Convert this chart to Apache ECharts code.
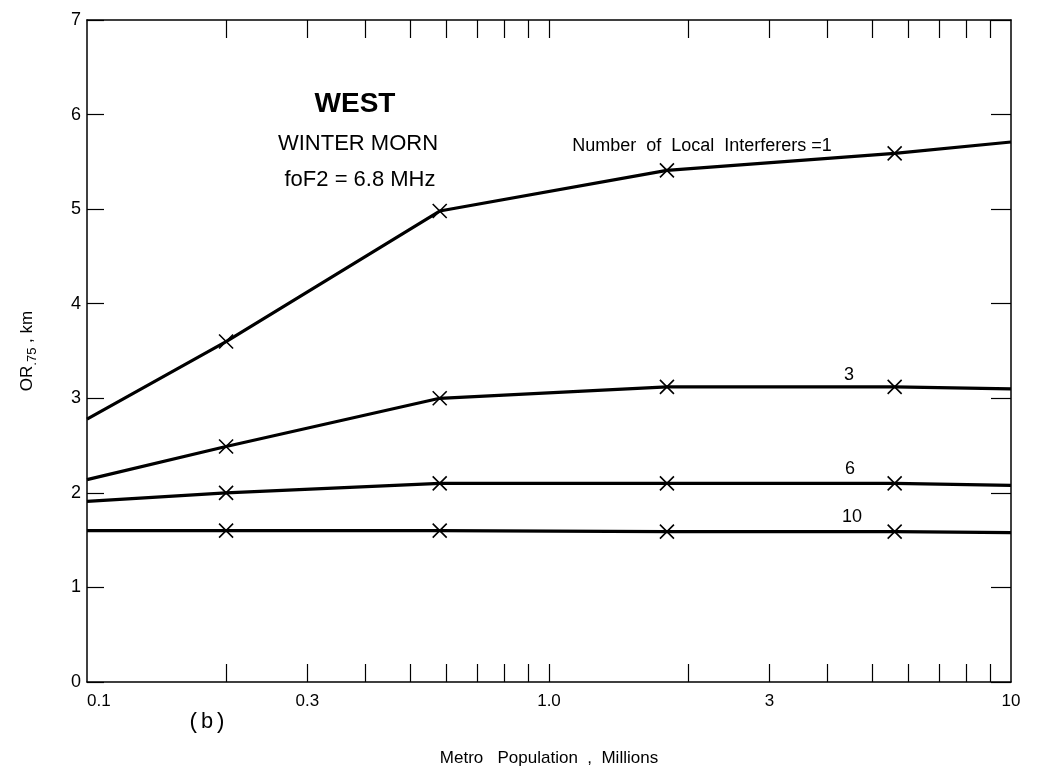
<!DOCTYPE html>
<html><head><meta charset="utf-8">
<script src="https://cdn.jsdelivr.net/npm/echarts@6/dist/echarts.min.js"></script>
<style>html,body{margin:0;padding:0;background:#fff}#c{width:1051px;height:774px}</style>
</head><body><div id="c"></div>
<script>
// ---- data ----
const xValues = [0.1, 0.2, 0.58, 1.8, 5.6, 10];
const interferers1 = [2.78, 3.60, 4.98, 5.41, 5.59, 5.71];
const interferers3 = [2.14, 2.49, 3.00, 3.12, 3.12, 3.10];
const interferers6 = [1.91, 2.00, 2.10, 2.10, 2.10, 2.08];
const interferers10 = [1.60, 1.60, 1.60, 1.59, 1.59, 1.58];
const seriesNames = ['Number of Local Interferers =1', '3', '6', '10'];
const xLabelValues = [0.1, 0.3, 1, 3, 10];
const xLabelTexts = ['0.1', '0.3', '1.0', '3', '10'];
const xTickValues = [0.2, 0.3, 0.4, 0.5, 0.6, 0.7, 0.8, 0.9, 1, 2, 3, 4, 5, 6, 7, 8, 9];
const yTickValues = [0, 1, 2, 3, 4, 5, 6, 7];

const FONT = "'Liberation Sans', Arial, sans-serif";
const chart = echarts.init(document.getElementById('c'), null, {renderer: 'canvas'});

function mkData(ys) {
  return xValues.map((x, i) => {
    const end = i === 0 || i === xValues.length - 1;
    return end ? {value: [x, ys[i]], symbol: 'none'} : {value: [x, ys[i]]};
  });
}
function mkSeries(name, ys) {
  return {
    name: name, type: 'line', xAxisIndex: 0, yAxisIndex: 0,
    data: mkData(ys),
    symbol: 'path://M0,0L10,10M10,0L0,10', symbolSize: 14,
    itemStyle: {color: 'none', borderColor: '#000', borderWidth: 1.6},
    lineStyle: {color: '#000', width: 3.2},
    emphasis: {disabled: true}, silent: true, animation: false
  };
}
const labelMap = {};
xLabelValues.forEach((v, i) => labelMap[v] = xLabelTexts[i]);

const xCommon = {
  type: 'log', logBase: 10, min: 0.1, max: 10,
  axisLine: {onZero: false, lineStyle: {color: '#000', width: 1.5}},
  splitLine: {show: false},
  axisTick: {inside: true, length: 18, customValues: xTickValues, lineStyle: {color: '#000', width: 1.2}}
};
const yCommon = {
  type: 'value', min: 0, max: 7, interval: 1,
  axisLine: {show: true, onZero: false, lineStyle: {color: '#000', width: 1.5}},
  splitLine: {show: false},
  axisTick: {show: true, inside: true, length: 17, customValues: yTickValues, lineStyle: {color: '#000', width: 1.2}}
};

chart.setOption({
  backgroundColor: '#fff',
  animation: false,
  grid: {left: 87, right: 40, top: 20, bottom: 92, containLabel: false, outerBoundsMode: 'none'},
  xAxis: [
    Object.assign({}, xCommon, {
      position: 'bottom',
      name: 'Metro   Population  ,  Millions', nameLocation: 'middle', nameGap: 68,
      nameTextStyle: {fontFamily: FONT, fontSize: 17, color: '#000'},
      axisLabel: {customValues: xLabelValues, formatter: v => labelMap[v] !== undefined ? labelMap[v] : String(v),
        fontFamily: FONT, fontSize: 17, color: '#000', margin: 11, alignMinLabel: 'left'}
    }),
    Object.assign({}, xCommon, {position: 'top', axisLabel: {show: false}})
  ],
  yAxis: [
    Object.assign({}, yCommon, {
      position: 'left',
      name: 'OR{sub|.75} , km', nameLocation: 'middle', nameGap: 60, nameRotate: 90,
      nameTextStyle: {fontFamily: FONT, fontSize: 17, color: '#000', lineHeight: 24, verticalAlign: 'middle',
        rich: {sub: {fontFamily: FONT, fontSize: 13, color: '#000', lineHeight: 24, verticalAlign: 'bottom'}}},
      axisLabel: {fontFamily: FONT, fontSize: 18, color: '#000', margin: 6}
    }),
    Object.assign({}, yCommon, {position: 'right', axisLabel: {show: false},
      axisTick: {show: true, inside: true, length: 20, customValues: yTickValues, lineStyle: {color: '#000', width: 1.2}}})
  ],
  series: [
    mkSeries(seriesNames[0], interferers1),
    mkSeries(seriesNames[1], interferers3),
    mkSeries(seriesNames[2], interferers6),
    mkSeries(seriesNames[3], interferers10)
  ],
  graphic: [
    {type: 'text', x: 355, y: 104, style: {text: 'WEST', font: "bold 28px " + FONT, fill: '#000', align: 'center', verticalAlign: 'middle'}},
    {type: 'text', x: 358, y: 144, style: {text: 'WINTER MORN', font: "22px " + FONT, fill: '#000', align: 'center', verticalAlign: 'middle'}},
    {type: 'text', x: 360, y: 180, style: {text: 'foF2 = 6.8 MHz', font: "22px " + FONT, fill: '#000', align: 'center', verticalAlign: 'middle'}},
    {type: 'text', x: 702, y: 146, style: {text: 'Number  of  Local  Interferers =1', font: "18px " + FONT, fill: '#000', align: 'center', verticalAlign: 'middle'}},
    {type: 'text', x: 849, y: 375, style: {text: seriesNames[1], font: "18px " + FONT, fill: '#000', align: 'center', verticalAlign: 'middle'}},
    {type: 'text', x: 850, y: 469, style: {text: seriesNames[2], font: "18px " + FONT, fill: '#000', align: 'center', verticalAlign: 'middle'}},
    {type: 'text', x: 852, y: 517, style: {text: seriesNames[3], font: "18px " + FONT, fill: '#000', align: 'center', verticalAlign: 'middle'}},
    {type: 'text', x: 207, y: 722, style: {text: '(b)', font: "22px 'Liberation Mono', 'DejaVu Sans Mono', monospace", fill: '#000', align: 'center', verticalAlign: 'middle'}}
  ]
});
</script></body></html>
